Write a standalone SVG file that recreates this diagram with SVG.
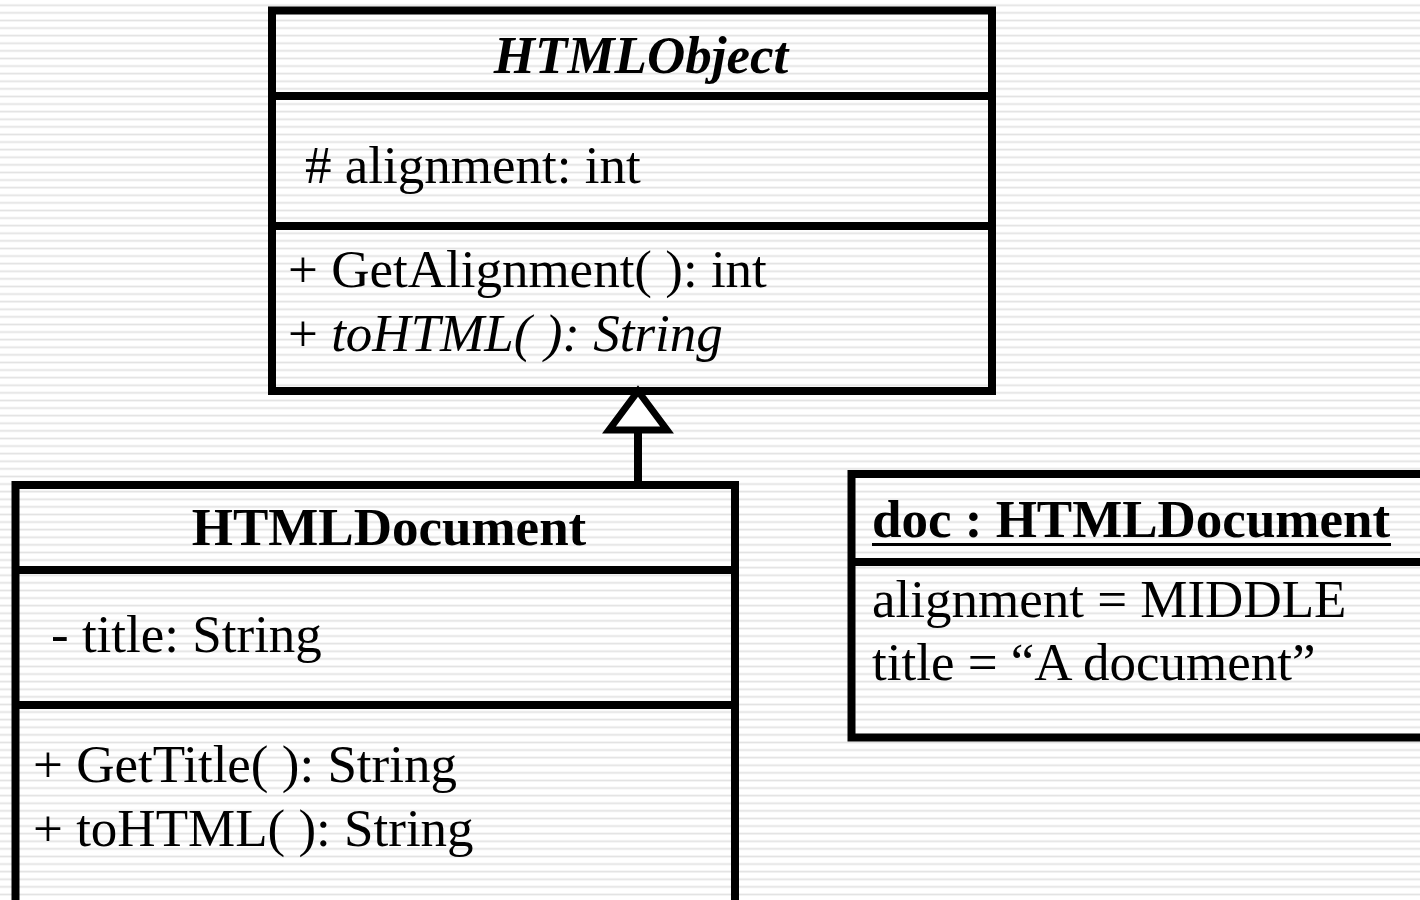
<svg xmlns="http://www.w3.org/2000/svg" width="1420" height="900" viewBox="0 0 1420 900">
  <defs>
    <pattern id="stripes" patternUnits="userSpaceOnUse" x="0" y="0" width="20" height="7.6">
      <rect x="0" y="0" width="20" height="7.6" fill="#ffffff"/>
      <rect x="0" y="4.4" width="20" height="1.7" fill="#e2e2e2"/>
    </pattern>
    <style>
      .box { fill: none; stroke: #000; stroke-width: 8; }
      .sep { stroke: #000; stroke-width: 8; }
      .t { font-family: "Liberation Serif", "Times New Roman", serif; font-size: 53px; fill: #000; }
      .b { font-weight: bold; }
      .i { font-style: italic; }
    </style>
  </defs>

  <rect x="0" y="0" width="1420" height="900" fill="url(#stripes)"/>

  <!-- abstract base class -->
  <g id="HTMLObject">
    <rect class="box" x="272" y="10.5" width="720" height="380.5"/>
    <line class="sep" x1="272" y1="96" x2="992" y2="96"/>
    <line class="sep" x1="272" y1="226" x2="992" y2="226"/>
    <text class="t b i" x="641" y="73" text-anchor="middle">HTMLObject</text>
    <text class="t" x="305" y="183"># alignment: int</text>
    <text class="t" x="288" y="287">+ GetAlignment( ): int</text>
    <text class="t" x="288" y="351">+ <tspan class="i">toHTML( ): String</tspan></text>
  </g>

  <!-- derived class -->
  <g id="HTMLDocument">
    <rect class="box" x="15.5" y="485" width="719.5" height="440"/>
    <line class="sep" x1="15.5" y1="570" x2="735" y2="570"/>
    <line class="sep" x1="15.5" y1="705" x2="735" y2="705"/>
    <text class="t b" x="389" y="545" text-anchor="middle">HTMLDocument</text>
    <text class="t" x="51" y="652">- title: String</text>
    <text class="t" x="33" y="782">+ GetTitle( ): String</text>
    <text class="t" x="33" y="846">+ toHTML( ): String</text>
  </g>

  <!-- object instance -->
  <g id="doc">
    <rect class="box" x="851.5" y="474" width="600" height="263.5"/>
    <line class="sep" x1="851.5" y1="562" x2="1430" y2="562"/>
    <text class="t b" x="872" y="537">doc : HTMLDocument</text>
    <line x1="872" y1="544.5" x2="1391" y2="544.5" stroke="#000" stroke-width="3"/>
    <text class="t" x="872" y="617">alignment = MIDDLE</text>
    <text class="t" x="872" y="680">title = “A document”</text>
  </g>

  <!-- generalization: HTMLDocument inherits HTMLObject -->
  <g id="connectors">
    <line x1="638" y1="430" x2="638" y2="485" stroke="#000" stroke-width="8"/>
    <path d="M638 391 L667 430 L609 430 Z" fill="#ffffff" stroke="#000" stroke-width="7" stroke-linejoin="miter" stroke-miterlimit="10"/>
  </g>
</svg>
